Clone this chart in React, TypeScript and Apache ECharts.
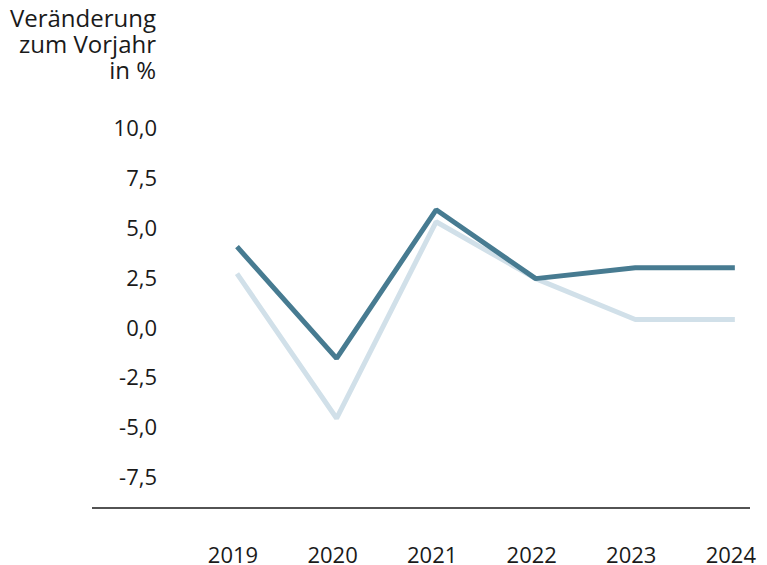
import React, { useEffect, useRef } from "react";
import * as echarts from "echarts";

const years = ["2019", "2020", "2021", "2022", "2023", "2024"];
const seriesDark = [4.0, -1.6, 5.85, 2.4, 2.95, 2.95];
const seriesLight = [2.65, -4.6, 5.25, 2.4, 0.35, 0.35];
const yTicks = { min: -10, max: 10, interval: 2.5 };
const titleLines = ["Veränderung", "zum Vorjahr", "in %"];

const FONT = "'Open Sans', 'Noto Sans', sans-serif";

export default function App() {
  const ref = useRef<HTMLDivElement>(null);
  useEffect(() => {
    document.body.style.margin = "0";
    const chart = echarts.init(ref.current!, null, { renderer: "svg" });
    chart.setOption({
      animation: false,
      backgroundColor: "#ffffff",
      textStyle: { fontFamily: FONT },
      grid: { left: 237, right: 30, top: 127, bottom: 38, containLabel: false },
      xAxis: {
        type: "category",
        data: years,
        boundaryGap: false,
        axisLine: { show: false },
        axisTick: { show: false },
        splitLine: { show: false },
        axisLabel: {
          color: "#1a1a1a",
          fontSize: 22,
          lineHeight: 18,
          fontFamily: FONT,
          margin: 19,
          padding: [0, 8, 0, 0],
        },
      },
      yAxis: {
        type: "value",
        min: yTicks.min,
        max: yTicks.max,
        interval: yTicks.interval,
        axisLine: { show: false },
        axisTick: { show: false },
        splitLine: { show: false },
        axisLabel: {
          color: "#1a1a1a",
          fontSize: 22,
          fontFamily: FONT,
          margin: 80,
          formatter: (v: number) => (v === yTicks.min ? "" : v.toFixed(1).replace(".", ",")),
        },
      },
      graphic: [
        {
          type: "text",
          x: 156,
          y: 4,
          style: {
            text: titleLines.join("\n"),
            align: "right",
            verticalAlign: "top",
            fontSize: 24,
            fontFamily: FONT,
            lineHeight: 26,
            fill: "#1a1a1a",
          },
        },
        {
          type: "line",
          shape: { x1: 92, y1: 508, x2: 750, y2: 508 },
          style: { stroke: "#1a1a1a", lineWidth: 1.5 },
        },
      ],
      series: [
        {
          type: "line",
          data: seriesLight,
          symbol: "none",
          lineStyle: { color: "#d1e0e9", width: 5 },
          z: 2,
        },
        {
          type: "line",
          data: seriesDark,
          symbol: "none",
          lineStyle: { color: "#477b91", width: 5 },
          z: 3,
        },
      ],
    });
    return () => chart.dispose();
  }, []);
  return <div ref={ref} style={{ width: 767, height: 565 }} />;
}
